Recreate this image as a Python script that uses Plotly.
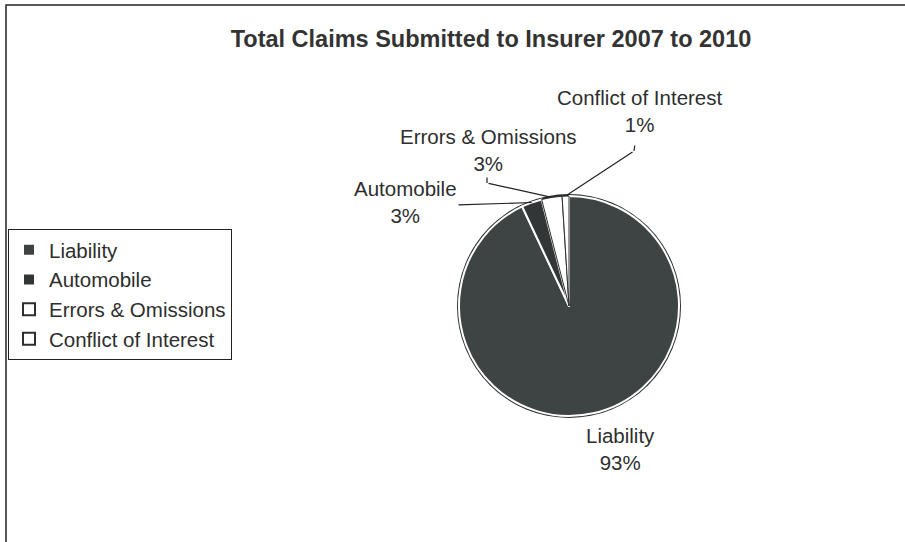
import math
import plotly.graph_objects as go

# ---- data ----
categories = ["Liability", "Automobile", "Errors & Omissions", "Conflict of Interest"]
values = [93, 3, 3, 1]
title_text = "Total Claims Submitted to Insurer 2007 to 2010"

# ---- styling / layout ----
W, H = 905, 542
slice_colors = ["#3e4343", "#323636", "#ffffff", "#ffffff"]
slice_line_colors = ["#ffffff", "#ffffff", "#2c2f2f", "#2c2f2f"]
slice_line_widths = [2, 2, 1, 1]
text_color = "#2e2e2e"
font_family = "Liberation Sans, Arial, sans-serif"

cx, cy, r = 569, 306, 110          # pie centre / radius in pixels
ring = 2                            # dark outer rim width

# label block centres (pixel), leader-line tails (pixel) and small elbow ticks
label_pos = [(620, 449), (405, 202), (488, 150), (640, 111)]
leader_tail = [None, (457, 205), (487, 183), (634, 151)]
leader_tick = [None, None, (487, 176), (635, 144)]


def dom(rad):
    return dict(x=[(cx - rad) / W, (cx + rad) / W],
                y=[1 - (cy + rad) / H, 1 - (cy - rad) / H])


fig = go.Figure()

# dark rim behind the pie
fig.add_trace(go.Pie(
    values=[1], labels=[" "], marker=dict(colors=["#2a2d2d"], line=dict(width=0)),
    domain=dom(r + ring), textinfo="none", hoverinfo="skip", showlegend=False,
    sort=False,
))

fig.add_trace(go.Pie(
    labels=categories, values=values, sort=False, direction="clockwise", rotation=0,
    marker=dict(colors=slice_colors,
                line=dict(color=slice_line_colors, width=slice_line_widths)),
    domain=dom(r), textinfo="none", hoverinfo="label+percent",
))


def seg(x0, y0, x1, y1):
    """Line from (x0,y0) [tail] to (x1,y1) [tip], pixel coords."""
    return dict(x=x1 / W, y=1 - y1 / H, xref="paper", yref="paper",
                ax=x0 - x1, ay=y0 - y1, axref="pixel", ayref="pixel",
                text="", showarrow=True, arrowhead=0, arrowwidth=1.2,
                arrowcolor="#222222", standoff=0, startstandoff=0)


total = float(sum(values))
annotations = []
cum = 0.0
for name, v, (lx, ly), tail, tick in zip(categories, values, label_pos,
                                         leader_tail, leader_tick):
    mid = (cum + v / 2.0) / total * 2 * math.pi
    cum += v
    pct = round(v / total * 100)
    annotations.append(dict(
        x=lx / W, y=1 - ly / H, xref="paper", yref="paper",
        xanchor="center", yanchor="middle",
        text=f"{name}<br>{pct}%", showarrow=False, align="center",
        font=dict(size=20.5, color=text_color, family=font_family),
    ))
    if tail is not None:
        tipx = cx + r * math.sin(mid)
        tipy = cy - r * math.cos(mid)
        annotations.append(seg(tail[0], tail[1], tipx, tipy))
        if tick is not None:
            annotations.append(seg(tick[0], tick[1], tail[0], tail[1]))

fig.update_layout(
    width=W, height=H,
    margin=dict(l=0, r=0, t=0, b=0),
    paper_bgcolor="white", plot_bgcolor="white",
    title=dict(text=f"<b>{title_text}</b>", x=491 / W, y=1 - 39 / H,
               xanchor="center", yanchor="middle",
               font=dict(size=23.5, color="#333333", family=font_family)),
    legend=dict(x=8 / W, y=1 - 229 / H, xanchor="left", yanchor="top",
                bordercolor="#222222", borderwidth=1, bgcolor="white",
                font=dict(size=20.5, color=text_color, family=font_family),
                tracegroupgap=0, itemsizing="constant"),
    annotations=annotations,
    shapes=[dict(type="rect", xref="paper", yref="paper",
                 x0=6 / W, x1=1.02, y0=-0.02, y1=1 - 5 / H,
                 line=dict(color="#222222", width=1.5))],
)

fig.write_html("out.html")
